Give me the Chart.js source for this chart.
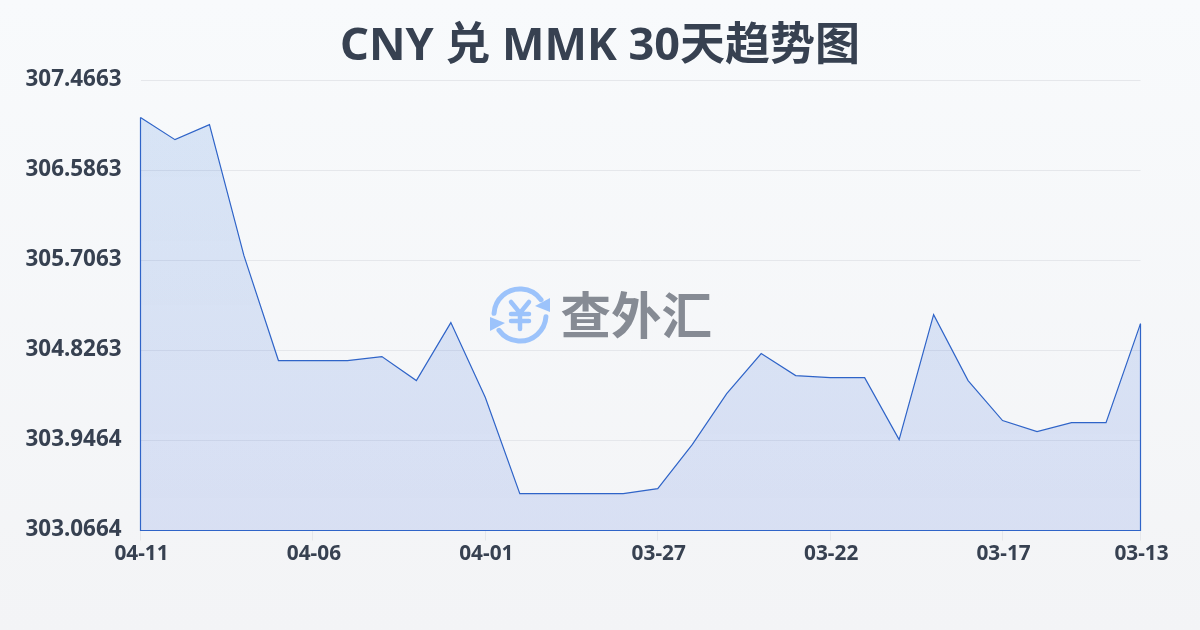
<!DOCTYPE html>
<html><head><meta charset="utf-8">
<style>html,body{margin:0;padding:0;width:1200px;height:630px;overflow:hidden;background:linear-gradient(180deg,#f8fafc,#f3f4f6)}canvas{display:block}</style>
<script src="https://cdn.jsdelivr.net/npm/chart.js@4"></script>
</head><body><canvas id="c" width="1200" height="630"></canvas>
<script>
const titleText = 'CNY 兑 MMK 30天趋势图';
const watermarkText = '查外汇';
const dates = ['04-11','04-10','04-09','04-08','04-07','04-06','04-05','04-04','04-03','04-02','04-01','03-31','03-30','03-29','03-28','03-27','03-26','03-25','03-24','03-23','03-22','03-21','03-20','03-19','03-18','03-17','03-16','03-15','03-14','03-13'];
const rates = [307.104,306.888,307.035,305.754,304.728,304.728,304.728,304.767,304.532,305.099,304.366,303.427,303.427,303.427,303.427,303.476,303.906,304.405,304.796,304.581,304.561,304.561,303.955,305.177,304.532,304.141,304.033,304.121,304.121,305.089];
const yTicks = ['303.0664','303.9464','304.8263','305.7063','306.5863','307.4663'];
const xTicks = ['04-11','04-06','04-01','03-27','03-22','03-17','03-13'];
const FONT = '"Noto Sans","Noto Sans CJK SC",sans-serif';
const INK = '#374151';
const LINE = '#2f64c8';

const centerTitle = {id:'centerTitle',afterLayout(ch){ if(ch.titleBlock){ch.titleBlock.left=0;ch.titleBlock.right=ch.width;} }};
const outline = {id:'outline',afterDatasetsDraw(ch){
  const pts = ch.getDatasetMeta(0).data, a = ch.chartArea, c = ch.ctx, n = pts.length;
  c.save();c.strokeStyle=LINE;c.lineWidth=1.2;c.beginPath();
  c.moveTo(pts[0].x,pts[0].y);c.lineTo(pts[0].x,a.bottom);c.lineTo(pts[n-1].x,a.bottom);c.lineTo(pts[n-1].x,pts[n-1].y);
  c.stroke();c.restore();
}};
const watermark = {id:'watermark',afterDatasetsDraw(ch){
  const c = ch.ctx, cx = 520, cy = 315, r = 26, blue = '#9cc3fb';
  c.save();
  c.strokeStyle = blue;c.fillStyle = blue;c.lineCap='round';c.lineWidth=5;
  c.beginPath();c.arc(cx,cy,r,Math.PI*1.02,Math.PI*1.8);c.stroke();
  c.beginPath();c.arc(cx,cy,r,Math.PI*0.02,Math.PI*0.8);c.stroke();
  c.beginPath();c.moveTo(550,298);c.lineTo(550,312);c.lineTo(535,306);c.closePath();c.fill();
  c.beginPath();c.moveTo(490,317);c.lineTo(490,331);c.lineTo(505,323);c.closePath();c.fill();
  c.lineWidth=4.5;c.beginPath();
  c.moveTo(511,302);c.lineTo(520,313);c.lineTo(529,302);
  c.moveTo(520,313);c.lineTo(520,329);
  c.moveTo(511,314);c.lineTo(529,314);
  c.moveTo(511,321);c.lineTo(529,321);c.stroke();
  c.fillStyle='#868b94';c.font='bold 50.5px "Noto Sans CJK SC",sans-serif';c.textAlign='left';c.textBaseline='middle';
  c.fillText(watermarkText,560.5,315);
  c.restore();
}};

new Chart(document.getElementById('c'),{
  type:'line',
  data:{labels:dates,datasets:[{data:rates,borderColor:LINE,borderWidth:1.2,pointRadius:0,tension:0,fill:'start',
    backgroundColor(ctx){
      const a = ctx.chart.chartArea;
      if(!a) return 'rgba(35,110,219,0.15)';
      const g = ctx.chart.ctx.createLinearGradient(0,a.top,0,a.bottom);
      g.addColorStop(0,'rgba(35,110,219,0.15)');
      g.addColorStop(1,'rgba(19,70,214,0.12)');
      return g;
    }}]},
  plugins:[centerTitle,outline,watermark],
  options:{
    responsive:false,animation:false,
    layout:{padding:{left:0,right:59.5,top:0,bottom:0}},
    plugins:{legend:{display:false},tooltip:{enabled:false},
      title:{display:true,text:titleText,color:INK,align:'center',
        font:{family:FONT,size:45,weight:'bold',lineHeight:1.2},padding:{top:20.5,bottom:6}}},
    scales:{
      x:{type:'category',offset:false,
        afterBuildTicks(s){s.ticks=s.ticks.filter(t=>xTicks.includes(dates[t.value]));},
        afterFit(s){s.height=99.5;},
        grid:{drawOnChartArea:false,drawTicks:true,tickLength:10,tickColor:'#e5e7eb',color:'#e5e7eb'},
        border:{display:false},
        ticks:{autoSkip:false,maxRotation:0,minRotation:0,color:INK,padding:1,labelOffset:1,font:{family:FONT,size:20.8,weight:'bold'}}},
      y:{type:'linear',min:Number(yTicks[0]),max:Number(yTicks[yTicks.length-1]),
        afterBuildTicks(s){s.ticks=yTicks.map(v=>({value:Number(v)}));},
        afterFit(s){s.width=140.5;},
        grid:{drawTicks:false,color:'#e5e7eb',lineWidth:1},
        border:{display:false},
        ticks:{autoSkip:false,color:INK,padding:19,labelOffset:-1,font:{family:FONT,size:22.4,weight:'bold'},
          callback(v){return Number(v).toFixed(4);}}}
    }
  }
});
</script></body></html>
